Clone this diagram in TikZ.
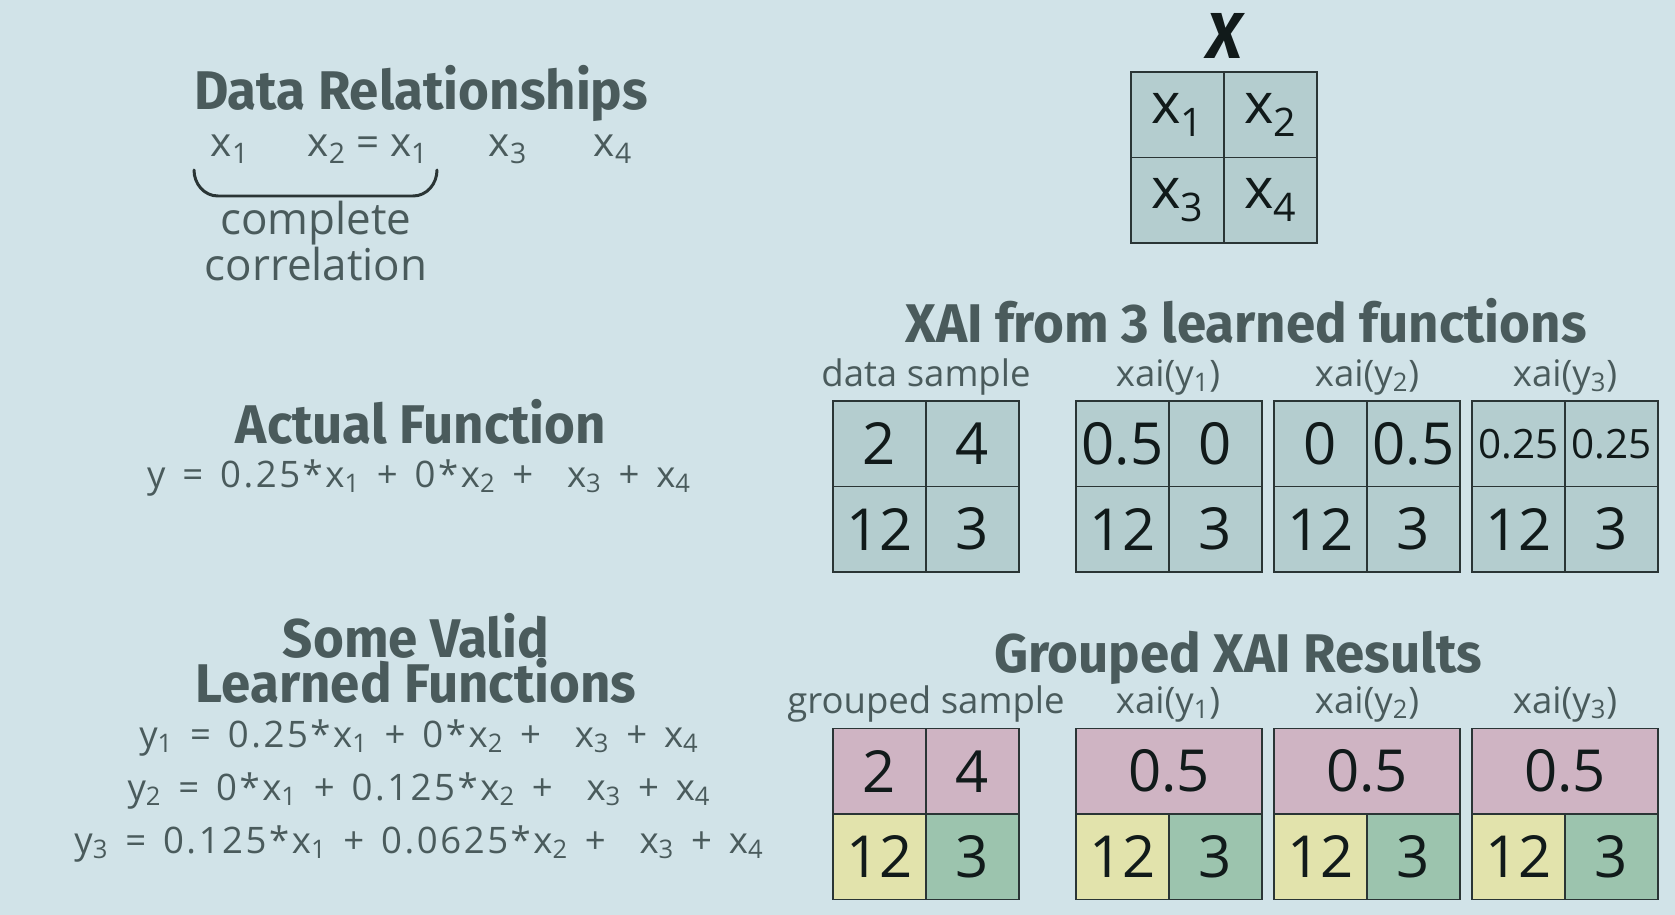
\documentclass[tikz,border=0pt]{standalone}
\usepackage{fontspec}
\setmainfont{Open Sans}
\newfontfamily\headfont[FakeStretch=0.97]{Fira Sans}
\newfontfamily\eqfont[LetterSpace=7,WordSpace=1.4]{Open Sans}
\usepackage{xcolor}
\usetikzlibrary{positioning}

\definecolor{bgc}{HTML}{D1E3E8}
\definecolor{cellc}{HTML}{B4CDCF}
\definecolor{pinkc}{HTML}{CFB4C3}
\definecolor{yelc}{HTML}{E2E3AC}
\definecolor{grnc}{HTML}{9CC4AE}
\definecolor{txtc}{HTML}{4A5B5C}
\definecolor{inkc}{HTML}{111A1A}
\definecolor{linec}{HTML}{2A3535}

\tikzset{
  title/.style={anchor=base, text=txtc, inner sep=0, align=center, font=\headfont\bfseries\fontsize{31}{26}\selectfont},
  label/.style={anchor=base, text=txtc, inner sep=0, font=\fontsize{23}{28}\selectfont},
  small label/.style={anchor=base, text=txtc, inner sep=0, font=\fontsize{20.8}{25}\selectfont},
  eq/.style={anchor=base, text=txtc, inner sep=0, font=\eqfont\fontsize{20.8}{24}\selectfont},
  cell/.style={draw=linec, fill=cellc, line width=0.8pt, minimum width=1.86cm, minimum height=1.71cm,
    inner sep=0, text=inkc, font=\fontsize{33}{38}\selectfont},
  smallcell/.style={cell, font=\fontsize{23}{28}\selectfont},
  widecell/.style={cell, minimum width=3.72cm}
}

\begin{document}
\begin{tikzpicture}[x=0.02cm, y=-0.02cm]
\fill[bgc] (0,0) rectangle (1675,915);

% left column
\node[title] (reltitle) at (421,110) {Data Relationships};
\node[label] (xa) at (230,157) {x\textsubscript{1}};
\node[label] (xb) at (368,157) {x\textsubscript{2} = x\textsubscript{1}};
\node[label] (xc) at (508,157) {x\textsubscript{3}};
\node[label] (xd) at (613,157) {x\textsubscript{4}};
\draw[linec, line width=1.7pt, line cap=round] (194,170) to[out=-90,in=180] (218,196) -- (413,196) to[out=0,in=-90] (437,170);
\node[label, font=\fontsize{25}{30}\selectfont] (compl) at (316,235) {complete};
\node[label, font=\fontsize{25}{30}\selectfont] (corr) at (316,280) {correlation};

\node[title] (acttitle) at (421,443) {Actual Function};
\node[eq] (acteq) at (419,487) {y = 0.25*x\textsubscript{1} + 0*x\textsubscript{2} +\ \ x\textsubscript{3} + x\textsubscript{4}};

\node[title, anchor=south] (validtitle) at (416,704) {Some Valid\\Learned Functions};
\node[eq] (eqa) at (419,747) {y\textsubscript{1} = 0.25*x\textsubscript{1} + 0*x\textsubscript{2} +\ \ x\textsubscript{3} + x\textsubscript{4}};
\node[eq] (eqb) at (419,800) {y\textsubscript{2} = 0*x\textsubscript{1} + 0.125*x\textsubscript{2} +\ \ x\textsubscript{3} + x\textsubscript{4}};
\node[eq] (eqc) at (419,853) {y\textsubscript{3} = 0.125*x\textsubscript{1} + 0.0625*x\textsubscript{2} +\ \ x\textsubscript{3} + x\textsubscript{4}};

% X matrix
\node[anchor=base, inner sep=0, text=inkc, font=\headfont\bfseries\itshape\fontsize{37}{42}\selectfont] (xtitle) at (1224,59) {X};
\node[cell, font=\fontsize{32}{36}\selectfont] (m1) at (1177.5,114.75) {x\textsubscript{1}};
\node[cell, font=\fontsize{32}{36}\selectfont] (m2) at (1270.5,114.75) {x\textsubscript{2}};
\node[cell, font=\fontsize{32}{36}\selectfont] (m3) at (1177.5,200.25) {x\textsubscript{3}};
\node[cell, font=\fontsize{32}{36}\selectfont] (m4) at (1270.5,200.25) {x\textsubscript{4}};

% XAI from 3 learned functions
\node[title] (xaititle) at (1246,342) {XAI from 3 learned functions};
\node[small label] (dslab) at (926,386) {data sample};
\node[small label] (ya) at (1168,386) {xai(y\textsubscript{1})};
\node[small label] (yb) at (1367,386) {xai(y\textsubscript{2})};
\node[small label] (yc) at (1565,386) {xai(y\textsubscript{3})};
\foreach \nm/\lx/\a/\b/\st in {ds/833/2/4/cell, fa/1076/0.5/0/cell, fb/1274/0/0.5/cell, fc/1472/0.25/0.25/smallcell}{
  \node[\st] (\nm-1) at (\lx+46.5,443.75) {\a};
  \node[\st] (\nm-2) at (\lx+139.5,443.75) {\b};
  \node[cell] (\nm-3) at (\lx+46.5,529.25) {12};
  \node[cell] (\nm-4) at (\lx+139.5,529.25) {3};
}

% Grouped XAI results
\node[title] (grptitle) at (1238,672) {Grouped XAI Results};
\node[small label] (gslab) at (926,713) {grouped sample};
\node[small label] (ga) at (1168,713) {xai(y\textsubscript{1})};
\node[small label] (gb) at (1367,713) {xai(y\textsubscript{2})};
\node[small label] (gc) at (1565,713) {xai(y\textsubscript{3})};
\node[cell, fill=pinkc] (gs-1) at (879.5,771.25) {2};
\node[cell, fill=pinkc] (gs-2) at (972.5,771.25) {4};
\node[cell, fill=yelc] (gs-3) at (879.5,856.75) {12};
\node[cell, fill=grnc] (gs-4) at (972.5,856.75) {3};
\foreach \nm/\lx in {ga/1076, gb/1274, gc/1472}{
  \node[widecell, fill=pinkc] (\nm-1) at (\lx+93,771.25) {0.5};
  \node[cell, fill=yelc] (\nm-3) at (\lx+46.5,856.75) {12};
  \node[cell, fill=grnc] (\nm-4) at (\lx+139.5,856.75) {3};
}
\end{tikzpicture}
\end{document}
